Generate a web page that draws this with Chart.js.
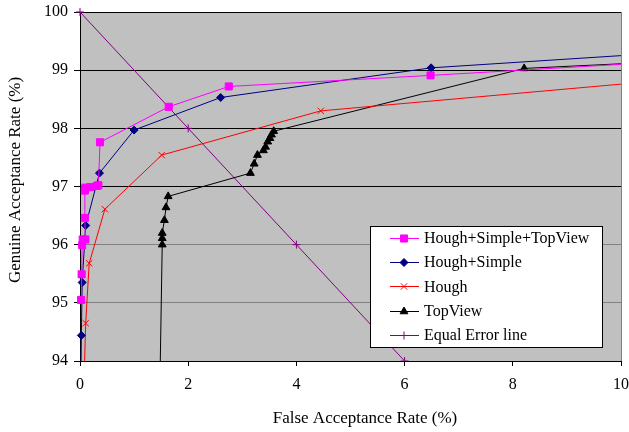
<!DOCTYPE html>
<html>
<head>
<meta charset="utf-8">
<script src="https://cdn.jsdelivr.net/npm/chart.js@4.4.1/dist/chart.umd.min.js"></script>
<style>
  html, body { margin: 0; padding: 0; background: #fff; }
  #c { display: block; }
</style>
</head>
<body>
<canvas id="c" width="629" height="432"></canvas>
<script>
// ---- data ----
const seriesNames = ['Hough+Simple+TopView', 'Hough+Simple', 'Hough', 'TopView', 'Equal Error line'];
const xTitle = 'False Acceptance Rate (%)';
const yTitle = 'Genuine Acceptance Rate (%)';

const hstFar = [0.02, 0.03, 0.04, 0.05, 0.10, 0.09, 0.09, 0.10, 0.19, 0.31, 0.34, 0.37, 1.64, 2.75, 6.48, 10];
const hstGar = [95.05, 95.49, 95.99, 96.09, 96.09, 96.46, 96.93, 96.98, 96.99, 97.01, 97.02, 97.76, 98.37, 98.72, 98.91, 99.10];

const hsFar = [0.015, 0.025, 0.04, 0.105, 0.36, 1.00, 2.60, 6.49, 10];
const hsGar = [93.5, 94.44, 95.35, 96.33, 97.23, 97.97, 98.53, 99.04, 99.25];

const houghFar = [0.07, 0.105, 0.17, 0.46, 1.51, 4.45, 10];
const houghGar = [93.5, 94.65, 95.68, 96.61, 97.54, 98.30, 98.76];

const topFar = [1.475, 1.52, 1.52, 1.52, 1.56, 1.59, 1.63, 3.15, 3.22, 3.28, 3.39, 3.43, 3.47, 3.51, 3.54, 3.58, 8.21, 10];
const topGar = [93.5, 96.00, 96.11, 96.20, 96.42, 96.64, 96.83, 97.23, 97.39, 97.54, 97.62, 97.68, 97.77, 97.83, 97.89, 97.95, 99.03, 99.11];

const eerFar = [0, 2, 4, 6];
const eerGar = [100, 98, 96, 94];

const xTicks = [0, 2, 4, 6, 8, 10];
const yTicks = [94, 95, 96, 97, 98, 99, 100];

// ---- build ----
const pts = (xs, ys) => xs.map((x, i) => ({ x: x, y: ys[i] }));
const FONT = "'Liberation Serif', 'Times New Roman', serif";

function mk(label, data, color, style, r) {
  return {
    label: label, data: data, showLine: true,
    borderColor: color, backgroundColor: color,
    pointBackgroundColor: color, pointBorderColor: color,
    borderWidth: 1, pointBorderWidth: 1, pointStyle: style,
    pointRadius: c => (c.raw && (c.raw.x >= 10 || c.raw.y < 94)) ? 0 : r,
    pointHoverRadius: r,
    tension: 0,
    clip: { left: 8, top: 8, right: 0, bottom: 0 }
  };
}

const datasets = [
  mk(seriesNames[0], pts(hstFar, hstGar), '#ff00ff', 'rect', 5),
  mk(seriesNames[1], pts(hsFar, hsGar), '#000080', 'rectRot', 4),
  mk(seriesNames[2], pts(houghFar, houghGar), '#ff0000', 'crossRot', 4.5),
  mk(seriesNames[3], pts(topFar, topGar), '#000000', 'triangle', 4.5),
  mk(seriesNames[4], pts(eerFar, eerGar), '#800080', 'cross', 4)
];

const bgPlugin = {
  id: 'bg',
  beforeDraw(chart) {
    const a = chart.chartArea, ctx = chart.ctx;
    ctx.save();
    ctx.fillStyle = '#c0c0c0';
    ctx.fillRect(a.left, a.top, a.right - a.left, a.bottom - a.top);
    ctx.strokeStyle = '#808080';
    ctx.lineWidth = 1;
    ctx.beginPath();
    ctx.moveTo(a.right + 0.5, a.top);
    ctx.lineTo(a.right + 0.5, a.bottom);
    ctx.stroke();
    ctx.restore();
  }
};

const titlePlugin = {
  id: 'axisTitles',
  afterDraw(chart) {
    const ctx = chart.ctx;
    ctx.save();
    ctx.fillStyle = '#000';
    ctx.font = '17px ' + FONT;
    ctx.textAlign = 'center';
    ctx.textBaseline = 'middle';
    ctx.fillText(xTitle, 365, 419);
    ctx.translate(16, 180);
    ctx.rotate(-Math.PI / 2);
    ctx.fillText(yTitle, 0, 0);
    ctx.restore();
  }
};

function drawMarker(ctx, style, r, x, y, color) {
  ctx.save();
  ctx.fillStyle = color; ctx.strokeStyle = color; ctx.lineWidth = 1;
  if (Chart.helpers && Chart.helpers.drawPoint) {
    Chart.helpers.drawPoint(ctx, { pointStyle: style, radius: r, rotation: 0, borderWidth: 1 }, x, y);
  }
  ctx.restore();
}

const legendPlugin = {
  id: 'boxLegend',
  afterDraw(chart) {
    const ctx = chart.ctx;
    const x0 = 370.5, y0 = 226.5, w = 232, h = 121;
    ctx.save();
    ctx.fillStyle = '#ffffff';
    ctx.fillRect(x0, y0, w, h);
    ctx.strokeStyle = '#000'; ctx.lineWidth = 1;
    ctx.strokeRect(x0, y0, w, h);
    ctx.font = '16px ' + FONT;
    ctx.textBaseline = 'middle';
    ctx.textAlign = 'left';
    chart.data.datasets.forEach((ds, i) => {
      const y = 238 + i * 24.2;
      ctx.strokeStyle = ds.borderColor; ctx.lineWidth = 1;
      ctx.beginPath(); ctx.moveTo(390, Math.round(y) + 0.5); ctx.lineTo(419, Math.round(y) + 0.5); ctx.stroke();
      drawMarker(ctx, ds.pointStyle, typeof ds.pointHoverRadius === 'number' ? ds.pointHoverRadius : 4, 404, Math.round(y) + 0.5, ds.borderColor);
      ctx.fillStyle = '#000';
      ctx.fillText(ds.label, 424, y + 1);
    });
    ctx.restore();
  }
};

new Chart(document.getElementById('c'), {
  type: 'scatter',
  data: { datasets: datasets },
  plugins: [bgPlugin, legendPlugin, titlePlugin],
  options: {
    responsive: false,
    animation: false,
    events: [],
    layout: { padding: { left: 0, top: 12, right: 8, bottom: 0 } },
    plugins: { legend: { display: false }, tooltip: { enabled: false } },
    scales: {
      x: {
        type: 'linear', min: 0, max: 10,
        afterBuildTicks: s => { s.ticks = xTicks.map(v => ({ value: v })); },
        afterFit: s => { s.height = 71; s.paddingRight = 0; s.paddingLeft = 0; },
        ticks: { color: '#000', font: { family: FONT, size: 16 }, padding: 9, maxRotation: 0 },
        grid: { drawOnChartArea: false, drawTicks: true, tickLength: 5, tickColor: '#000' },
        border: { color: '#000', width: 1 },
        title: { display: false }
      },
      y: {
        type: 'linear', min: 94, max: 100,
        afterBuildTicks: s => { s.ticks = yTicks.map(v => ({ value: v })); },
        afterFit: s => { s.width = 80; s.paddingTop = 0; s.paddingBottom = 0; },
        ticks: { color: '#000', font: { family: FONT, size: 16 }, padding: 6 },
        grid: {
          color: c => (c.tick && c.tick.value >= 97) ? '#000000' : '#808080',
          tickColor: '#000', tickLength: 6, lineWidth: 1
        },
        border: { color: '#000', width: 1 },
        title: { display: false }
      }
    }
  }
});
</script>
</body>
</html>
